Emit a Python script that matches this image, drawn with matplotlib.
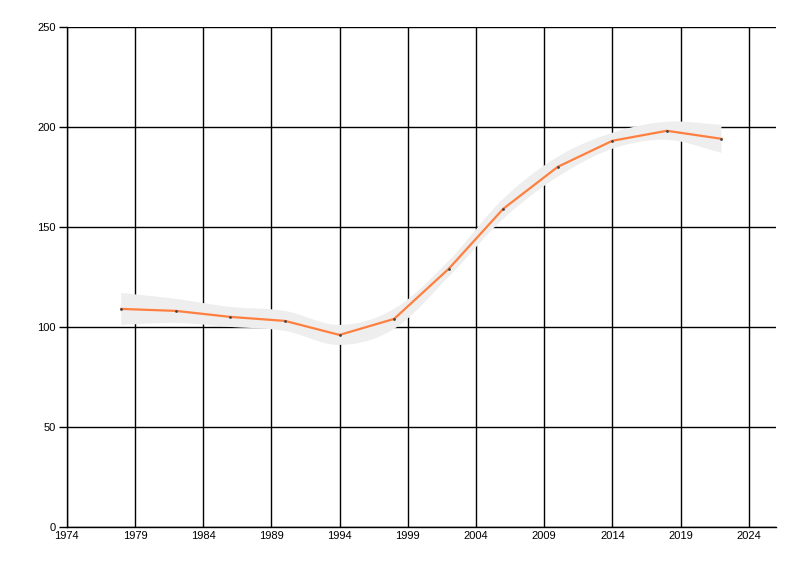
import numpy as np
import matplotlib
matplotlib.use("Agg")
import matplotlib.pyplot as plt

years = [1978, 1982, 1986, 1990, 1994, 1998, 2002, 2006, 2010, 2014, 2018, 2022]
values = [109, 108, 105, 103, 96, 104, 129, 159, 180, 193, 198, 194]
upper = [117, 114, 110, 108, 101, 109, 133, 164, 185, 197, 202.5, 201]
lower = [101, 102, 100, 98, 91, 99, 125, 154, 175, 189, 193.5, 187]
xticks = [1974, 1979, 1984, 1989, 1994, 1999, 2004, 2009, 2014, 2019, 2024]
yticks = [0, 50, 100, 150, 200, 250]


def catmull(x, y, n=20):
    x = np.asarray(x, float)
    y = np.asarray(y, float)
    px = np.concatenate([[2 * x[0] - x[1]], x, [2 * x[-1] - x[-2]]])
    py = np.concatenate([[2 * y[0] - y[1]], y, [2 * y[-1] - y[-2]]])
    xs, ys = [], []
    for i in range(1, len(px) - 2):
        t = np.linspace(0, 1, n, endpoint=False)
        for arr, out in ((px, xs), (py, ys)):
            p0, p1, p2, p3 = arr[i - 1], arr[i], arr[i + 1], arr[i + 2]
            out.extend(0.5 * ((2 * p1) + (-p0 + p2) * t
                              + (2 * p0 - 5 * p1 + 4 * p2 - p3) * t ** 2
                              + (-p0 + 3 * p1 - 3 * p2 + p3) * t ** 3))
    xs.append(x[-1])
    ys.append(y[-1])
    return np.array(xs), np.array(ys)


plt.rcParams['font.family'] = ['Liberation Sans', 'DejaVu Sans']
fig = plt.figure(figsize=(8, 5.76), dpi=100)
ax = fig.add_axes([0.0834, 0.085, 0.97 - 0.0834, 0.9536 - 0.085])

ux, uy = catmull(years, upper)
lx, ly = catmull(years, lower)
poly_x = np.concatenate([ux, lx[::-1]])
poly_y = np.concatenate([uy, ly[::-1]])
ax.fill(poly_x, poly_y, color='#eeeeee', lw=0, zorder=2)

ax.plot(years, values, color='#ff7f3f', lw=1.6, zorder=3)
ax.scatter(years, values, s=4, color='#444444', zorder=4, lw=0)

ax.set_xlim(1974, 2026)
ax.set_ylim(0, 250)
ax.set_xticks(xticks)
ax.set_yticks(yticks)
ax.grid(True, color='black', lw=1.0, zorder=1)
ax.set_axisbelow(True)
for s in ['top', 'right']:
    ax.spines[s].set_visible(False)
for s in ['left', 'bottom']:
    ax.spines[s].set_linewidth(1.0)
ax.tick_params(axis='y', length=6, width=1.0, labelsize=8, pad=2)
ax.tick_params(axis='x', length=0, labelsize=8, pad=3)

fig.savefig('out.png', dpi=100)
